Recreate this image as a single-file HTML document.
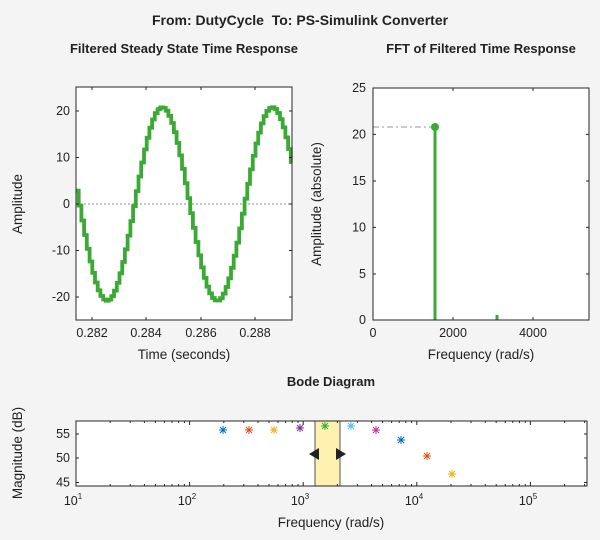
<!DOCTYPE html>
<html><head><meta charset="utf-8"><style>
body{margin:0;background:#f4f4f4;}
svg{display:block;font-family:"Liberation Sans",sans-serif;}
</style></head><body>
<svg id="s" width="600" height="540" xmlns="http://www.w3.org/2000/svg">
<rect width="600" height="540" fill="#f4f4f4"/>
<text x="300" y="25" font-size="14" font-weight="bold" text-anchor="middle" fill="#222">From: DutyCycle&#160; To: PS-Simulink Converter</text>
<text x="184" y="53" font-size="13" font-weight="bold" text-anchor="middle" fill="#222">Filtered Steady State Time Response</text>
<text x="481" y="53" font-size="13" font-weight="bold" text-anchor="middle" fill="#222">FFT of Filtered Time Response</text>
<text x="331" y="386" font-size="13" font-weight="bold" text-anchor="middle" fill="#222">Bode Diagram</text>

<!-- left axes -->
<rect x="76" y="87" width="216" height="233" fill="#fff"/>
<line x1="76" y1="204" x2="292" y2="204" stroke="#888" stroke-dasharray="2,2" stroke-width="1"/>
<path id="sine" fill="none" stroke="#3aaa35" stroke-width="3.8"/>
<g stroke="#262626" stroke-width="1">
<rect x="76" y="87" width="216" height="233" fill="none"/>
<path d="M92,320v-3M146,320v-3M201,320v-3M255,320v-3M92,87v3M146,87v3M201,87v3M255,87v3M76,111h3M76,157.5h3M76,204h3M76,250.5h3M76,297h3M292,111h-3M292,157.5h-3M292,204h-3M292,250.5h-3M292,297h-3"/>
</g>
<g font-size="12.5" fill="#222" text-anchor="end">
<text x="70" y="115">20</text><text x="70" y="161.5">10</text><text x="70" y="208">0</text><text x="70" y="254.5">-10</text><text x="70" y="301">-20</text>
</g>
<g font-size="12.5" fill="#222" text-anchor="middle">
<text x="92" y="337">0.282</text><text x="146" y="337">0.284</text><text x="201" y="337">0.286</text><text x="255" y="337">0.288</text>
</g>
<text x="184" y="359" font-size="13.5" text-anchor="middle" fill="#222">Time (seconds)</text>
<text transform="translate(22,204) rotate(-90)" font-size="13.5" text-anchor="middle" fill="#222">Amplitude</text>

<!-- right axes -->
<rect x="373" y="88" width="216" height="232" fill="#fff"/>
<line x1="373" y1="127" x2="433" y2="127" stroke="#bbb" stroke-width="1.5" stroke-dasharray="6,3,2,3"/>
<line x1="435" y1="127" x2="435" y2="320" stroke="#3aaa35" stroke-width="3"/>
<circle cx="435" cy="127" r="4" fill="#3aaa35"/>
<line x1="497" y1="315" x2="497" y2="320" stroke="#3aaa35" stroke-width="3"/>
<g stroke="#262626" stroke-width="1">
<rect x="373" y="88" width="216" height="232" fill="none"/>
<path d="M453,320v-3M533,320v-3M453,88v3M533,88v3M373,134.4h3M373,181h3M373,227.4h3M373,274h3M589,134.4h-3M589,181h-3M589,227.4h-3M589,274h-3"/>
</g>
<g font-size="12.5" fill="#222" text-anchor="end">
<text x="366" y="92">25</text><text x="366" y="138.4">20</text><text x="366" y="185">15</text><text x="366" y="231.4">10</text><text x="366" y="278">5</text><text x="366" y="324">0</text>
</g>
<g font-size="12.5" fill="#222" text-anchor="middle">
<text x="373" y="337">0</text><text x="453" y="337">2000</text><text x="533" y="337">4000</text>
</g>
<text x="481" y="359" font-size="13.5" text-anchor="middle" fill="#222">Frequency (rad/s)</text>
<text transform="translate(321,204) rotate(-90)" font-size="13.5" text-anchor="middle" fill="#222">Amplitude (absolute)</text>

<!-- bode -->
<rect x="76" y="421" width="511" height="65" fill="#fff"/>
<rect x="315" y="421" width="25" height="65" fill="#fff2b0" stroke="#555" stroke-width="1"/>
<path d="M309,454l10,-6v12z" fill="#222"/>
<path d="M346,454l-10,-6v12z" fill="#222"/>
<g id="marks"></g>
<g id="bt" stroke="#262626" stroke-width="1"><rect x="76" y="421" width="511" height="65" fill="none"/>
<path d="M76,434h3M76,458h3M76,482.5h3M587,434h-3M587,458h-3M587,482.5h-3"/></g>
<g font-size="12.5" fill="#222" text-anchor="end">
<text x="70" y="438">55</text><text x="70" y="462">50</text><text x="70" y="486.5">45</text>
</g>
<g font-size="12.5" fill="#222" text-anchor="middle">
<text x="73" y="505">10<tspan font-size="8" dy="-6">1</tspan></text>
<text x="187" y="505">10<tspan font-size="8" dy="-6">2</tspan></text>
<text x="300" y="505">10<tspan font-size="8" dy="-6">3</tspan></text>
<text x="414" y="505">10<tspan font-size="8" dy="-6">4</tspan></text>
<text x="528" y="505">10<tspan font-size="8" dy="-6">5</tspan></text>
</g>
<text x="331" y="527" font-size="13.5" text-anchor="middle" fill="#222">Frequency (rad/s)</text>
<text transform="translate(22,453) rotate(-90)" font-size="13.5" text-anchor="middle" fill="#222">Magnitude (dB)</text>
</svg>
<script>
(function(){
var ns="http://www.w3.org/2000/svg";
var w=2*Math.PI/0.00405,tp=0.284537,dt=1e-4,d="";
function X(t){return 92+(t-0.282)*27200;}
function Y(v){return 204-v*4.65;}
var t0=0.28141,prev=null;
for(var t=t0;t<0.28937;t+=dt){
 var v=20.8*Math.cos(w*(t-tp));var x1=X(t),x2=Math.min(292,X(t+dt)),y=Y(v);
 if(prev===null)d+="M"+x1.toFixed(1)+","+y.toFixed(1);else d+="V"+y.toFixed(1);
 d+="H"+x2.toFixed(1);prev=y;
}
document.getElementById("sine").setAttribute("d",d);
var bt=document.getElementById("bt"),p="";
function LX(f){return 76+(Math.log10(f)-1)*113.6;}
for(var e=1;e<=5;e++)for(var k=1;k<10;k++){var x=LX(k*Math.pow(10,e));if(x>587)continue;var l=k==1?4:2;p+="M"+x.toFixed(1)+",486v-"+l+"M"+x.toFixed(1)+",421v"+l;}
var pe=document.createElementNS(ns,"path");pe.setAttribute("d",p);bt.appendChild(pe);
var m=[[223,430,"#0072bd"],[249,430,"#d95319"],[274,430,"#edb120"],[300,428,"#7e2f8e"],[325,426,"#3aaa35"],[351,426,"#4dbeee"],[376,430,"#c42ea0"],[401,440,"#0072bd"],[427,456,"#d95319"],[452,474,"#edb120"]];
var g=document.getElementById("marks");
m.forEach(function(a){var s=4,q="M"+(a[0]-s)+","+a[1]+"h"+2*s+"M"+a[0]+","+(a[1]-s)+"v"+2*s+"M"+(a[0]-3)+","+(a[1]-3)+"l6,6M"+(a[0]-3)+","+(a[1]+3)+"l6,-6";
var e=document.createElementNS(ns,"path");e.setAttribute("d",q);e.setAttribute("stroke",a[2]);e.setAttribute("stroke-width","1");g.appendChild(e);});
})();
</script>
</body></html>
